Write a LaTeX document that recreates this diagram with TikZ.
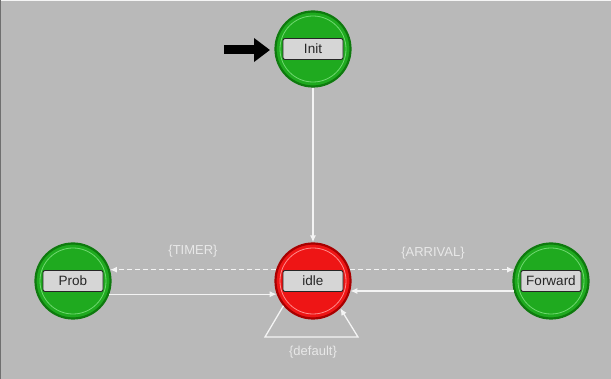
\documentclass[tikz,border=0pt]{standalone}
\usepackage{fontspec}
\setmainfont{Liberation Sans}
\usetikzlibrary{arrows.meta,calc}

\definecolor{bg}{HTML}{B9B9B9}
\definecolor{stgreen}{HTML}{1FAA1F}
\definecolor{stgreendark}{HTML}{0E7A0E}
\definecolor{stgreenlight}{HTML}{6FD86F}
\definecolor{stred}{HTML}{EE1515}
\definecolor{streddark}{HTML}{A80000}
\definecolor{stredlight}{HTML}{FF8A8A}
\definecolor{boxfill}{HTML}{D6D6D6}
\definecolor{wire}{HTML}{F4F4F4}
\definecolor{cond}{HTML}{E8E8E8}

\tikzset{
  statering/.style n args={3}{circle, minimum size=75pt, inner sep=0pt,
    fill=#1, draw=#2, line width=2.2pt,
    path picture={\draw[#3, line width=0.8pt]
      (path picture bounding box.center) circle (33pt);}},
  greenstate/.style={statering={stgreen}{stgreendark}{stgreenlight}},
  redstate/.style={statering={stred}{streddark}{stredlight}},
  namebox/.style={draw=black!85, fill=boxfill, line width=0.9pt,
    rounded corners=2pt, minimum width=60pt, minimum height=21pt,
    inner sep=0pt, font=\fontsize{13.5}{14}\selectfont, text=black!85},
  trans/.style={draw=wire, line width=1.3pt,
    -{Latex[length=7pt,width=6pt]}},
  condtrans/.style={trans, dash pattern=on 5pt off 3pt},
  condlabel/.style={text=cond, font=\fontsize{13}{14}\selectfont, inner sep=0pt}
}

\begin{document}
\begin{tikzpicture}[x=1pt,y=-1pt]
  % canvas
  \fill[bg] (0,0) rectangle (611,379);
  \useasboundingbox (0,0) rectangle (611,379);
  \draw[white!85!bg, line width=1pt] (0,0.5) -- (611,0.5);
  \draw[black!40!bg, line width=1pt] (0.5,0) -- (0.5,379);

  % states
  \node[greenstate] (init) at (313,49) {};
  \node[redstate]   (idle) at (313,281) {};
  \node[greenstate] (prob) at (73,281) {};
  \node[greenstate] (fwd)  at (551,281) {};

  \node[namebox] (initname) at (init) {Init};
  \node[namebox] (idlename) at (idle) {idle};
  \node[namebox] (probname) at (prob) {Prob};
  \node[namebox] (fwdname)  at (fwd)  {Forward};

  % initial-state marker
  \coordinate (start) at (224,50);
  \coordinate (starttip) at (270,50);
  \draw[black, line width=9pt, -{Triangle[length=16pt,width=23pt]}]
    (start) -- (starttip);

  % transitions
  \draw[trans] (init.south) -- (idle.north);

  \draw[condtrans] (idle.163) -- (prob.17);
  \draw[trans] (prob.-20) -- (idle.-160);

  \draw[condtrans] (idle.17) -- (fwd.163);
  \draw[trans] (fwd.-165) -- (idle.-15);

  \coordinate (loopL) at (265,337);
  \coordinate (loopR) at (358,337);
  \draw[trans] (idle.-140) -- (loopL) -- (loopR) -- (idle.-45);

  % conditions
  \node[condlabel] (timer) at (193,251) {\{TIMER\}};
  \node[condlabel] (arrival) at (433,253) {\{ARRIVAL\}};
  \node[condlabel] (default) at (313,352) {\{default\}};
\end{tikzpicture}
\end{document}
